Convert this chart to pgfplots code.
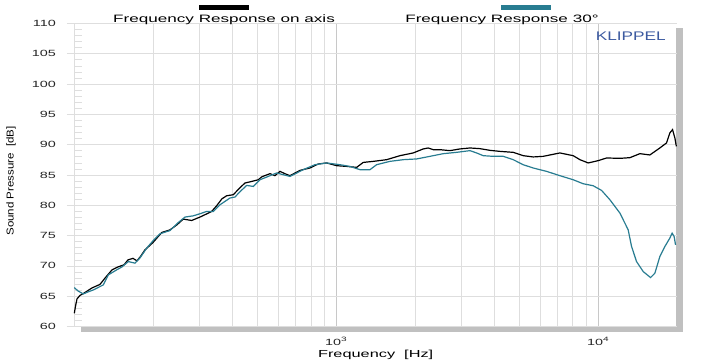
\documentclass[border=0pt]{standalone}
\usepackage{pgfplots}
\pgfplotsset{compat=1.18}
\usepackage{fontspec}
\setmainfont{Liberation Sans}
\newfontfamily\wfont{Liberation Sans}[FakeStretch=1.6]
\newfontfamily\ylfont{Liberation Sans}[FakeStretch=1.15]
\newfontfamily\kfont{Liberation Sans}[FakeStretch=1.38]
\definecolor{tealc}{RGB}{40,124,145}
\definecolor{gridc}{RGB}{222,222,222}
\definecolor{gridd}{RGB}{200,200,200}
\definecolor{shadowc}{RGB}{192,192,192}
\definecolor{klip}{RGB}{60,90,160}

\pgfplotstableread{
f db
100 62.18
101.1 63.39
102.4 64.55
105.1 65.12
109.9 65.62
116.8 66.36
125.3 66.94
132.1 68.18
139.3 69.34
146.8 69.83
154.8 70.17
160.3 70.99
167.5 71.24
173.5 70.83
179.7 71.65
186.1 72.64
199.7 73.85
215.6 75.50
232.0 75.95
246.6 76.78
260.6 77.72
280.6 77.49
301.8 78.05
321.0 78.60
334.5 78.98
349.5 79.92
366.3 81.07
381.7 81.57
404.5 81.74
429.0 82.89
448.3 83.67
475.5 83.93
503.9 84.21
520.6 84.71
558.5 85.21
583.4 84.88
609.7 85.59
637.1 85.21
665.7 84.88
727.1 85.75
793.7 86.15
853.9 86.81
919.1 86.98
1003.5 86.53
1095.8 86.41
1196.7 86.25
1268.2 87.07
1384.4 87.24
1557.5 87.52
1750.6 88.18
1967.7 88.63
2148.5 89.29
2244.7 89.45
2345.6 89.17
2488.0 89.17
2716.4 89.01
2966.0 89.29
3238.8 89.45
3536.4 89.34
3860.9 89.06
4215.6 88.89
4739.0 88.73
5172.5 88.18
5648.0 87.97
6167.0 88.07
7143.7 88.63
8027.6 88.18
8516.6 87.52
9159.0 86.98
10000 87.36
10767 87.80
12106 87.74
13213 87.85
14428 88.51
15753 88.30
17198 89.45
18240 90.28
18777 91.93
19231 92.48
19624 91.11
19884 89.72
}\onaxis

\pgfplotstableread{
f db
100 66.41
103.3 65.87
108.2 65.37
112.8 65.70
118.2 66.03
129.0 66.86
134.8 68.51
145.1 69.34
152.1 69.83
160.8 70.71
170.5 70.45
178.2 71.32
189.0 72.93
199.7 74.13
212.4 75.29
232.0 75.83
248.8 77.11
264.6 78.05
284.7 78.26
301.8 78.60
320.2 78.98
339.3 78.98
359.8 80.08
392.9 81.19
410.6 81.36
429.0 82.23
455.0 83.27
482.3 83.11
511.6 84.21
592.2 85.32
665.7 84.76
748.2 85.87
829.3 86.69
919.1 86.98
1033.0 86.69
1128.2 86.41
1231.8 85.87
1345.0 85.87
1426.2 86.69
1603.3 87.24
1802.3 87.52
2027.4 87.64
2279.0 88.07
2561.9 88.51
2881.0 88.73
3238.8 89.01
3435.3 88.63
3640.3 88.18
3974.6 88.07
4339.7 88.07
4739.0 87.52
5172.5 86.69
5648.0 86.15
6355.0 85.59
7143.7 84.88
8027.6 84.21
8765.4 83.55
9570.6 83.22
10304 82.45
11084 80.91
12106 78.71
13017 75.95
13412 73.19
14013 70.71
14855 69.06
15849 68.07
16462 68.79
17198 71.54
17972 73.19
18777 74.58
19159 75.40
19502 74.84
19743 73.47
}\thirty

\begin{document}
\begin{tikzpicture}
\useasboundingbox (0bp,0bp) rectangle (710bp,360bp);
% drop shadow of the plot area
\fill[shadowc] (676bp,28bp) rectangle (683bp,332bp);
\fill[shadowc] (81bp,28.2bp) rectangle (683bp,32.8bp);
\begin{axis}[
  at={(74.3bp,33.5bp)}, anchor=south west,
  scale only axis, width=602.7bp, height=303.1bp,
  xmode=log, xmin=100, xmax=20000, ymin=60, ymax=110,
  xtick={1000,10000},
  xticklabels={10\textsuperscript{3},10\textsuperscript{4}},
  minor xtick={200,300,400,500,600,700,800,900,2000,3000,4000,5000,6000,7000,8000,9000},
  ytick={60,65,...,110},
  minor ytick={61,62,63,64,66,67,68,69,71,72,73,74,76,77,78,79,81,82,83,84,86,87,88,89,91,92,93,94,96,97,98,99,101,102,103,104,106,107,108,109},
  extra y ticks={60,65,...,110},
  extra y tick labels={},
  extra y tick style={tick align=outside, ymajorgrids=false},
  xmajorgrids, xminorgrids, ymajorgrids, yminorgrids=false,
  major grid style={draw=gridd, line width=0.6bp},
  minor grid style={draw=gridc, line width=0.6bp},
  y grid style={draw=gridc, line width=0.6bp},
  axis x line*=bottom,
  axis y line*=left,
  x axis line style={draw=none},
  y axis line style={draw=gridc, line width=0.6bp},
  tick align=inside,
  major tick length=7.5bp,
  minor tick length=7.5bp,
  xtick style={draw=none},
  minor x tick style={draw=none},
  tick style={draw=gridc, line width=0.6bp},
  /pgf/number format/assume math mode=true,
  ticklabel style={font=\fontsize{9bp}{10bp}\wfont, text=black!85},
  yticklabel style={anchor=east, xshift=-15bp},
  xticklabel style={anchor=base, yshift=-19.2bp},
  xlabel={Frequency\ \ [Hz]},
  xlabel style={at={([yshift=-30.8bp]axis description cs:0.5,0)}, anchor=base, font=\fontsize{10.2bp}{12bp}\wfont},
  ylabel={Sound Pressure\ \ [dB]},
  ylabel style={at={([xshift=-63.3bp,yshift=-6bp]axis description cs:0,0.5)}, anchor=center, font=\fontsize{10bp}{12bp}\ylfont},
  clip=false,
]
\addplot[black, line width=1.2bp] table[x=f, y=db] {\onaxis};
\addplot[tealc, line width=1.2bp] table[x=f, y=db] {\thirty};
\end{axis}
% legend
\fill[black] (199bp,350bp) rectangle (249bp,355bp);
\fill[tealc] (501bp,350bp) rectangle (551bp,355bp);
\node[anchor=base, inner sep=0pt, font=\fontsize{10.7bp}{12bp}\wfont] at (224bp,337.3bp) {Frequency Response on axis};
\node[anchor=base, inner sep=0pt, font=\fontsize{10.7bp}{12bp}\wfont] at (502bp,337.3bp) {Frequency Response 30°};
\node[anchor=base east, inner sep=0pt, text=klip, font=\fontsize{12.5bp}{14bp}\kfont] at (666bp,319.3bp) {KLIPPEL};
\end{tikzpicture}
\end{document}
